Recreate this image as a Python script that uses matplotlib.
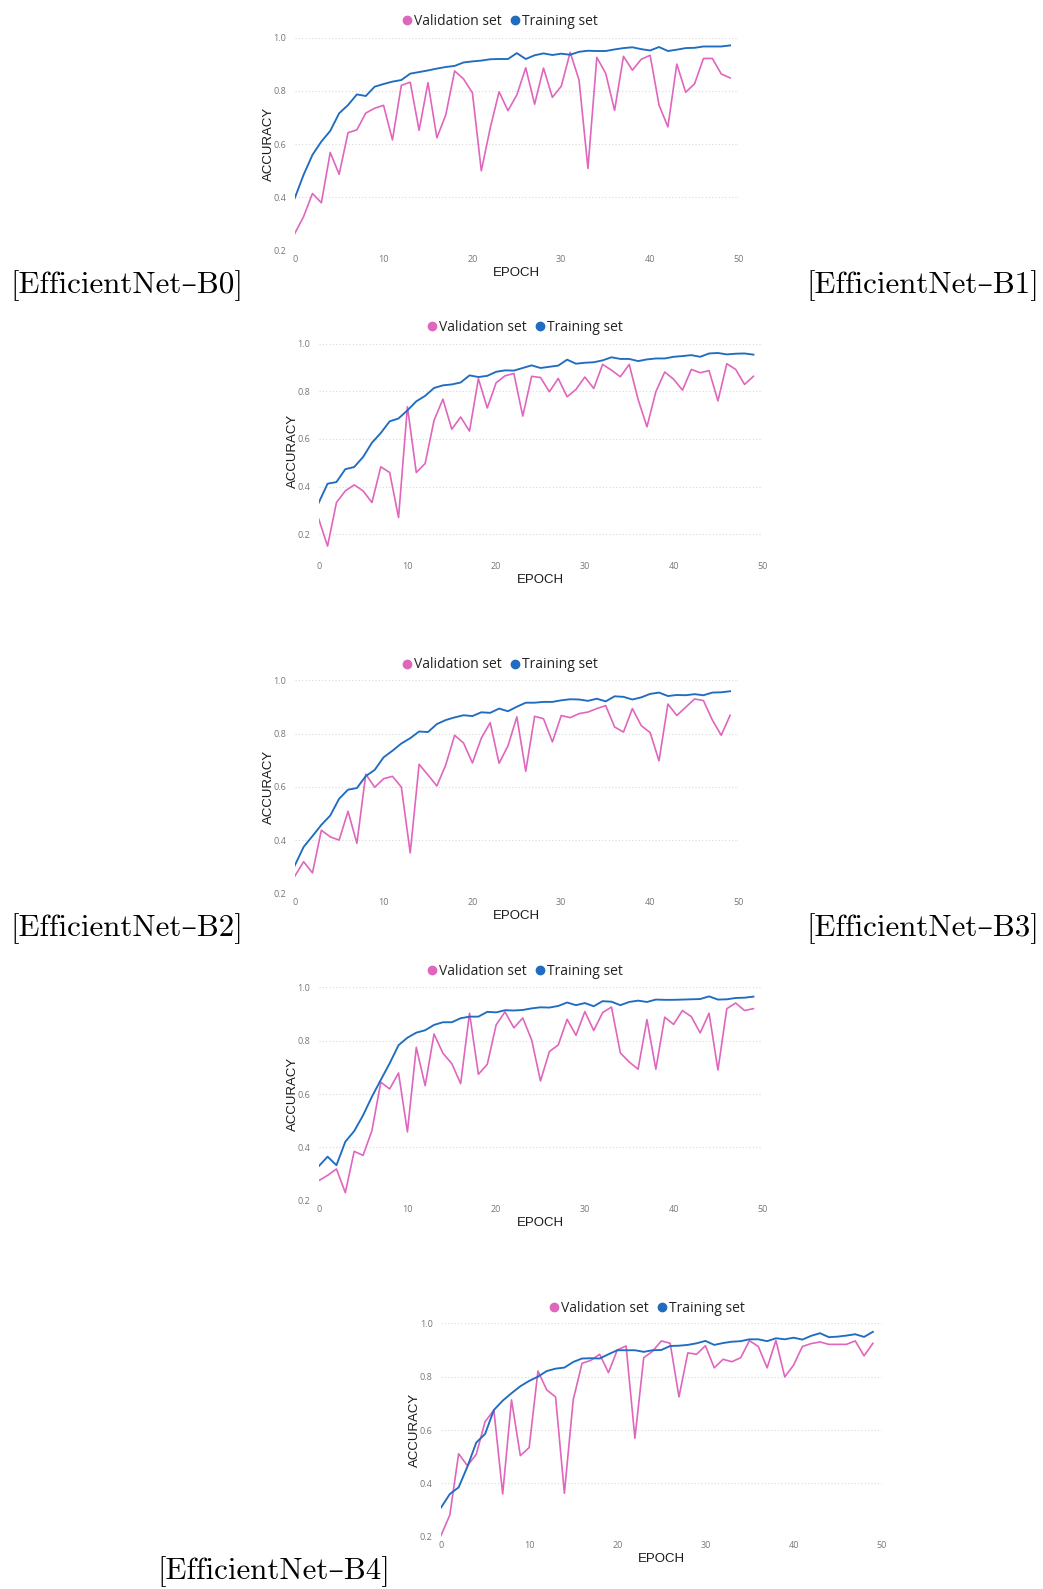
import numpy as np
import matplotlib
matplotlib.use('Agg')
import matplotlib.pyplot as plt
from matplotlib.lines import Line2D

# epochs shared by all runs
epochs = np.arange(50)

# EfficientNet-B0
b0_train = [0.397, 0.485, 0.56, 0.61, 0.65, 0.716, 0.747, 0.787, 0.781, 0.816,
            0.826, 0.835, 0.841, 0.865, 0.871, 0.877, 0.884, 0.89, 0.894, 0.907,
            0.911, 0.914, 0.919, 0.92, 0.92, 0.942, 0.92, 0.934, 0.941, 0.935,
            0.94, 0.936, 0.947, 0.951, 0.95, 0.95, 0.956, 0.961, 0.964, 0.957,
            0.952, 0.965, 0.95, 0.955, 0.961, 0.962, 0.967, 0.967, 0.967, 0.971]
b0_val = [0.264, 0.328, 0.415, 0.38, 0.569, 0.487, 0.643, 0.654, 0.717, 0.735,
          0.746, 0.616, 0.821, 0.833, 0.652, 0.831, 0.624, 0.71, 0.875, 0.845,
          0.793, 0.5, 0.66, 0.797, 0.726, 0.785, 0.887, 0.75, 0.886, 0.776,
          0.818, 0.945, 0.841, 0.509, 0.926, 0.866, 0.727, 0.93, 0.878, 0.919,
          0.934, 0.747, 0.665, 0.901, 0.795, 0.827, 0.922, 0.922, 0.864, 0.849]

# EfficientNet-B1
b1_train = [0.332, 0.412, 0.419, 0.473, 0.482, 0.524, 0.584, 0.625, 0.674, 0.686,
            0.72, 0.758, 0.781, 0.814, 0.825, 0.829, 0.837, 0.867, 0.86, 0.865,
            0.882, 0.888, 0.887, 0.898, 0.909, 0.898, 0.903, 0.908, 0.933, 0.916,
            0.92, 0.922, 0.93, 0.943, 0.936, 0.936, 0.927, 0.934, 0.938, 0.938,
            0.945, 0.948, 0.952, 0.945, 0.959, 0.961, 0.955, 0.958, 0.959, 0.954]
b1_val = [0.264, 0.15, 0.333, 0.382, 0.407, 0.382, 0.333, 0.483, 0.459, 0.27,
          0.735, 0.459, 0.497, 0.678, 0.767, 0.641, 0.692, 0.633, 0.853, 0.73,
          0.836, 0.865, 0.875, 0.696, 0.863, 0.858, 0.798, 0.854, 0.777, 0.808,
          0.86, 0.812, 0.913, 0.889, 0.861, 0.913, 0.766, 0.651, 0.798, 0.881,
          0.851, 0.805, 0.892, 0.878, 0.887, 0.76, 0.916, 0.892, 0.829, 0.863]

# EfficientNet-B2
b2_train = [0.305, 0.375, 0.416, 0.458, 0.493, 0.556, 0.59, 0.596, 0.641, 0.664,
            0.711, 0.736, 0.763, 0.783, 0.808, 0.806, 0.836, 0.851, 0.861, 0.869,
            0.866, 0.88, 0.878, 0.894, 0.884, 0.901, 0.916, 0.916, 0.919, 0.919,
            0.925, 0.929, 0.928, 0.923, 0.931, 0.921, 0.94, 0.938, 0.928, 0.936,
            0.949, 0.954, 0.941, 0.945, 0.944, 0.948, 0.944, 0.954, 0.955, 0.959]
b2_val = [0.265, 0.32, 0.278, 0.438, 0.413, 0.401, 0.509, 0.389, 0.648, 0.599,
          0.631, 0.64, 0.6, 0.353, 0.685, 0.645, 0.604, 0.683, 0.794, 0.765,
          0.69, 0.783, 0.841, 0.689, 0.754, 0.863, 0.659, 0.865, 0.856, 0.769,
          0.868, 0.86, 0.875, 0.881, 0.894, 0.905, 0.825, 0.806, 0.894, 0.83,
          0.804, 0.698, 0.911, 0.868, 0.899, 0.93, 0.924, 0.851, 0.794, 0.869]

# EfficientNet-B3
b3_train = [0.329, 0.365, 0.333, 0.421, 0.461, 0.52, 0.59, 0.653, 0.715, 0.783,
            0.811, 0.83, 0.839, 0.859, 0.869, 0.869, 0.884, 0.89, 0.89, 0.908,
            0.906, 0.914, 0.913, 0.915, 0.921, 0.925, 0.924, 0.93, 0.943, 0.933,
            0.941, 0.929, 0.948, 0.946, 0.933, 0.945, 0.95, 0.945, 0.954, 0.953,
            0.953, 0.954, 0.955, 0.956, 0.966, 0.954, 0.955, 0.96, 0.961, 0.965]
b3_val = [0.275, 0.295, 0.319, 0.23, 0.385, 0.37, 0.463, 0.644, 0.619, 0.679,
          0.458, 0.775, 0.631, 0.825, 0.753, 0.714, 0.639, 0.903, 0.674, 0.711,
          0.859, 0.908, 0.848, 0.885, 0.803, 0.649, 0.759, 0.784, 0.88, 0.82,
          0.909, 0.838, 0.905, 0.926, 0.754, 0.72, 0.693, 0.879, 0.693, 0.888,
          0.861, 0.913, 0.89, 0.829, 0.903, 0.69, 0.92, 0.941, 0.913, 0.92]

# EfficientNet-B4
b4_train = [0.309, 0.36, 0.385, 0.463, 0.553, 0.585, 0.675, 0.71, 0.738, 0.764,
            0.784, 0.8, 0.821, 0.83, 0.834, 0.855, 0.868, 0.869, 0.868, 0.884,
            0.899, 0.899, 0.899, 0.893, 0.899, 0.9, 0.915, 0.916, 0.919, 0.925,
            0.934, 0.919, 0.926, 0.931, 0.933, 0.94, 0.94, 0.933, 0.944, 0.94,
            0.946, 0.939, 0.953, 0.963, 0.948, 0.95, 0.954, 0.959, 0.949, 0.968]
b4_val = [0.205, 0.281, 0.511, 0.466, 0.509, 0.631, 0.675, 0.36, 0.713, 0.504,
          0.534, 0.821, 0.75, 0.724, 0.363, 0.713, 0.85, 0.861, 0.884, 0.815,
          0.9, 0.915, 0.569, 0.871, 0.895, 0.934, 0.925, 0.724, 0.889, 0.884,
          0.916, 0.833, 0.865, 0.856, 0.871, 0.935, 0.913, 0.833, 0.936, 0.799,
          0.843, 0.913, 0.924, 0.93, 0.921, 0.921, 0.921, 0.934, 0.878, 0.925]

model_names = ['[EfficientNet–B0]', '[EfficientNet–B1]', '[EfficientNet–B2]',
               '[EfficientNet–B3]', '[EfficientNet–B4]']
y_ticks = [0.2, 0.4, 0.6, 0.8, 1.0]
x_ticks = [0, 10, 20, 30, 40, 50]

VAL_COLOR = '#e066bd'
TRAIN_COLOR = '#1f6cc1'

W, H = 1043, 1589
fig = plt.figure(figsize=(W / 100, H / 100), dpi=100)


def add_px_axes(left, top, right, bottom):
    """axes from pixel box (origin top-left)"""
    return fig.add_axes([left / W, 1 - bottom / H, (right - left) / W, (bottom - top) / H])


def draw_chart(box, train, val, ymin, legend_xy):
    left, top, right, bottom = box
    ax = add_px_axes(left, top, right, bottom)
    ax.plot(epochs, val, color=VAL_COLOR, lw=1.2)
    ax.plot(epochs, train, color=TRAIN_COLOR, lw=1.35)
    ax.set_xlim(0, 50)
    ax.set_ylim(ymin, 1.0)
    ax.set_yticks(y_ticks)
    ax.set_xticks(x_ticks)
    ax.set_yticklabels(['%.1f' % v for v in y_ticks])
    ax.tick_params(length=0, labelsize=6.5, labelcolor='#777777', pad=6)
    ax.tick_params(axis='x', pad=3)
    for lbl in ax.get_xticklabels() + ax.get_yticklabels():
        lbl.set_fontfamily('Open Sans')
    ax.grid(axis='y', color='#d9d9d9', ls=(0, (1, 2)), lw=0.8)
    for s in ax.spines.values():
        s.set_visible(False)
    ax.set_xlabel('EPOCH', fontsize=9.5, family='Liberation Sans', color='#1a1a1a', labelpad=2)
    ax.set_ylabel('ACCURACY', fontsize=9.5, family='Liberation Sans', color='#1a1a1a', labelpad=-1)

    handles = [Line2D([], [], marker='o', ls='none', color=VAL_COLOR, markersize=6),
               Line2D([], [], marker='o', ls='none', color=TRAIN_COLOR, markersize=6)]
    fig.legend(handles, ['Validation set', 'Training set'], loc='center',
               bbox_to_anchor=(legend_xy[0] / W, 1 - legend_xy[1] / H), ncol=2,
               frameon=False, handletextpad=0.0, columnspacing=0.4,
               prop={'family': 'Open Sans', 'size': 10}, labelcolor='#252423',
               borderaxespad=0, handlelength=1.0)
    return ax


draw_chart((294.7, 37.7, 739, 250.7), b0_train, b0_val, 0.2, (499, 21.5))
draw_chart((318.7, 343.7, 762.3, 558), b1_train, b1_val, 0.1, (524, 327.5))
draw_chart((294.7, 680.3, 739, 893.7), b2_train, b2_val, 0.2, (499, 665))
draw_chart((318.7, 987.3, 762.3, 1200.7), b3_train, b3_val, 0.2, (524, 971))
draw_chart((441, 1323.3, 881.7, 1536.7), b4_train, b4_val, 0.2, (646, 1308))

label_font = dict(fontsize=22.3, family=['cmr10', 'DejaVu Serif'], color='black', va='center')
fig.text(10 / W, 1 - 286 / H, model_names[0], ha='left', **label_font)
fig.text(1039 / W, 1 - 286 / H, model_names[1], ha='right', **label_font)
fig.text(10 / W, 1 - 929 / H, model_names[2], ha='left', **label_font)
fig.text(1039 / W, 1 - 929 / H, model_names[3], ha='right', **label_font)
fig.text(157 / W, 1 - 1572 / H, model_names[4], ha='left', **label_font)

fig.savefig('out.png', dpi=100, facecolor='white')
